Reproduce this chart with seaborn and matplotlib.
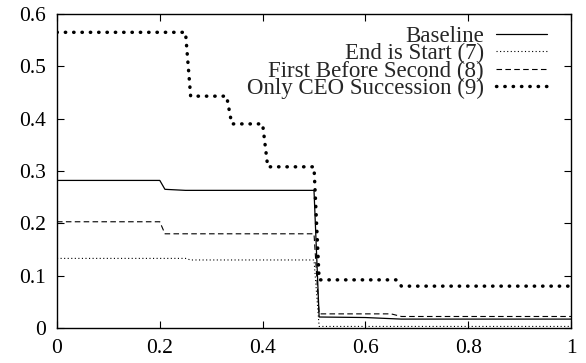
import matplotlib
matplotlib.use("Agg")
import matplotlib.pyplot as plt
import seaborn as sns
from matplotlib.ticker import FuncFormatter

# ---- data ----
baseline_x = [0.0, 0.20, 0.21, 0.25, 0.50, 0.51, 0.60, 0.67, 1.0]
baseline_y = [0.282, 0.282, 0.265, 0.263, 0.263, 0.021, 0.020, 0.017, 0.017]

end_start_x = [0.0, 0.25, 0.26, 0.50, 0.51, 1.0]
end_start_y = [0.133, 0.133, 0.130, 0.130, 0.003, 0.003]

first_second_x = [0.0, 0.20, 0.21, 0.50, 0.51, 0.65, 0.67, 1.0]
first_second_y = [0.203, 0.203, 0.180, 0.180, 0.027, 0.027, 0.022, 0.022]

ceo_x = [0.0, 0.25, 0.26, 0.33, 0.34, 0.40, 0.41, 0.50, 0.51, 0.66, 0.67, 1.0]
ceo_y = [0.565, 0.565, 0.443, 0.443, 0.390, 0.390, 0.308, 0.308, 0.092, 0.092, 0.080, 0.080]

labels = ["Baseline", "End is Start (7)", "First Before Second (8)", "Only CEO Succession (9)"]
x_ticks = [0, 0.2, 0.4, 0.6, 0.8, 1.0]
y_ticks = [0, 0.1, 0.2, 0.3, 0.4, 0.5, 0.6]

sns.set_style("ticks")
plt.rcParams["font.family"] = ["Liberation Serif", "DejaVu Serif"]
plt.rcParams["mathtext.fontset"] = "stix"

fig = plt.figure(figsize=(5.86, 3.63), dpi=100)
ax = fig.add_axes([57 / 586, 35 / 363, (571 - 57) / 586, (328 - 14) / 363])

series = [
    (baseline_x, baseline_y, dict(linestyle="-", linewidth=0.9)),
    (end_start_x, end_start_y, dict(linestyle=(0, (1, 2.2)), linewidth=0.8)),
    (first_second_x, first_second_y, dict(linestyle=(0, (5, 3)), linewidth=0.8)),
    (ceo_x, ceo_y, dict(linestyle=(0, (0.1, 2.3)), linewidth=2.5, dash_capstyle="round")),
]
for (xs, ys, style), lab in zip(series, labels):
    sns.lineplot(x=xs, y=ys, ax=ax, color="black", label=lab, estimator=None, sort=False, **style)

ax.set_xlim(0, 1)
ax.set_ylim(0, 0.6)
ax.set_xticks(x_ticks)
ax.set_yticks(y_ticks)
fmt = FuncFormatter(lambda v, p: "%g" % round(v, 3))
ax.xaxis.set_major_formatter(fmt)
ax.yaxis.set_major_formatter(fmt)
ax.tick_params(direction="in", length=5, width=0.8, top=True, right=True,
               labelsize=15.5, colors="black", pad=8)
for s in ax.spines.values():
    s.set_visible(True)
    s.set_linewidth(1.0)
    s.set_color("black")

leg = ax.legend(loc="upper right", markerfirst=False, frameon=False, fontsize=16.5,
                handlelength=2.2, handletextpad=0.55, labelspacing=-0.16,
                borderaxespad=0.3, bbox_to_anchor=(0.984, 1.014))

fig.savefig("out.png", dpi=100)
